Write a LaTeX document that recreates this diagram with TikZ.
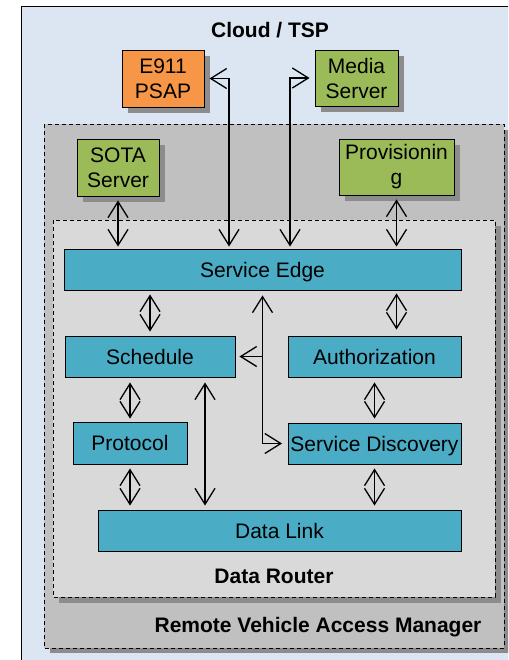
\documentclass[tikz,border=0pt]{standalone}
\usepackage{fontspec}
\setmainfont{Liberation Sans}
\usetikzlibrary{arrows.meta,shadows}
\definecolor{cloudbg}{HTML}{DCE6F2}
\definecolor{rvambg}{HTML}{C0C0C0}
\definecolor{drbg}{HTML}{D9D9D9}
\definecolor{boxteal}{HTML}{4BACC6}
\definecolor{boxgreen}{HTML}{9BBB59}
\definecolor{boxorange}{HTML}{F79646}
\definecolor{shgray}{HTML}{8C8C8C}
\begin{document}
\begin{tikzpicture}[x=1pt,y=-1pt,
  font=\fontsize{21}{25}\selectfont,
  box/.style={draw=black, line width=0.9pt, inner sep=0pt, align=center},
  shadowed/.style={drop shadow={shadow xshift=6pt, shadow yshift=-6pt, fill=shgray, opacity=1}},
  onebox/.style={box, fill=boxteal, minimum height=41pt, text height=15pt, text depth=0pt},
  twobox/.style={box, shadowed, minimum width=82pt, minimum height=57pt},
  lbl/.style={font=\fontsize{21}{25}\selectfont\bfseries, anchor=base, inner sep=0pt},
  container/.style={draw=black, line width=0.9pt, dash pattern=on 4pt off 3pt},
  conn/.style={line width=1.3pt, {Straight Barb[length=16pt,width=20pt]}-{Straight Barb[length=16pt,width=20pt]}},
  conn1/.style={line width=1.3pt, -{Straight Barb[length=16pt,width=20pt]}}
]
\useasboundingbox (0,0) rectangle (508,660);
\clip (0,0) rectangle (508,660);
% Cloud background
\draw[fill=cloudbg, line width=1pt] (21,7) rectangle (560,700);
% Remote Vehicle Access Manager
\fill[shgray] (50,130) rectangle (510,653);
\draw[container, fill=rvambg] (44,124) rectangle (504,648);
% Data Router
\fill[shgray] (59,226) rectangle (501,603);
\draw[container, fill=drbg] (53,220) rectangle (495,597);

% labels
\node[lbl] (cloud) at (270,38) {Cloud / TSP};
\node[lbl] (drlbl) at (274,583) {Data Router};
\node[lbl] (rvamlbl) at (318,632) {Remote Vehicle Access Manager};

% cloud boxes
\node[twobox, fill=boxorange] (e911) at (163,78.5) {E911\\PSAP};
\node[twobox, fill=boxgreen, minimum width=83pt, minimum height=56pt] (media) at (356.5,78) {Media\\Server};
\node[twobox, fill=boxgreen] (sota) at (118,167.5) {SOTA\\Server};
\node[twobox, fill=boxgreen, minimum width=115pt, minimum height=56pt] (prov) at (396.5,167) {Provisionin\\g};

% data router boxes
\node[onebox, minimum width=397pt] (se) at (262.5,269.5) {Service Edge};
\node[onebox, minimum width=170pt] (sched) at (150,356.5) {Schedule};
\node[onebox, minimum width=173pt] (auth) at (374.5,356.5) {Authorization};
\node[onebox, minimum width=114pt, minimum height=42pt] (proto) at (130,443) {Protocol};
\node[onebox, minimum width=173pt] (sd) at (374.5,443.5) {Service Discovery};
\node[onebox, minimum width=363pt] (dl) at (279.5,530.5) {Data Link};

% connectors
\draw[conn, shorten <=4pt, shorten >=2pt] (sota.south) -- (sota.south |- se.north);
\draw[conn, shorten <=4pt, shorten >=2pt] (prov.south) -- (prov.south |- se.north);
\draw[conn, shorten <=5pt, shorten >=2pt] (e911.east) -| ([xshift=-33.5pt]se.north);
\draw[conn, shorten <=5pt, shorten >=2pt] (media.west) -| ([xshift=27.5pt]se.north);

\draw[conn, shorten <=4pt, shorten >=4pt] (sched.north |- se.south) -- (sched.north);
\draw[conn, shorten <=3pt, shorten >=6pt] (prov.south |- se.south) -- (prov.south |- auth.north);
\draw[conn, shorten <=5pt, shorten >=3pt] (proto.north |- sched.south) -- (proto.north);
\draw[conn, shorten <=5pt, shorten >=4pt] (auth.south) -- (sd.north);
\draw[conn, shorten <=4pt, shorten >=4pt] (proto.south) -- (proto.south |- dl.north);
\draw[conn, shorten <=4pt, shorten >=4pt] (sd.south) -- (sd.south |- dl.north);

\coordinate (sdl) at ([xshift=55pt]sched.south);
\draw[conn, shorten <=5pt, shorten >=4pt] (sdl) -- (sdl |- dl.north);

\draw[conn, shorten <=5pt, shorten >=5.5pt] (se.south) |- (sd.west);
\draw[conn1, shorten >=4pt] (se.south |- sched.east) -- (sched.east);
\end{tikzpicture}
\end{document}
